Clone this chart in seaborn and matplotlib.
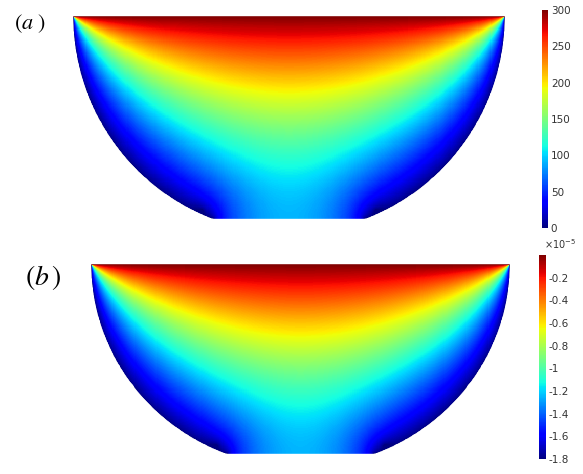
import numpy as np
import matplotlib
matplotlib.use("Agg")
import matplotlib.pyplot as plt
from matplotlib.path import Path
from matplotlib.patches import PathPatch
import seaborn as sns

# ---- values shown on the two colour scales ----
top_value_a = 300.0          # value held on the flat top edge, panel (a)
arc_value_a = 0.0            # value held on the curved wall, panel (a)
ticks_a = [0, 50, 100, 150, 200, 250, 300]

top_value_b = 0.0            # panel (b), in units of 1e-5
arc_value_b = -1.8
ticks_b = [-1.8, -1.6, -1.4, -1.2, -1, -0.8, -0.6, -0.4, -0.2]
scale_b = 1e-5

panel_labels = [r"$(a\;)$", r"$(b\,)$"]

# ---- geometry: unit half-disc cut flat at DEPTH, corners rounded ----
DEPTH = 0.935
FILLET = 0.05
H = 1.0 / 200
# exponent of the Kirchhoff back-transform (conductivity rising with the value)
KIRCHHOFF_EXP = 0.87

nx = int(round(2 / H)) + 1
ny = int(round(DEPTH / H)) + 1
xs = -1 + np.arange(nx) * H
ys = -np.arange(ny) * H
X, Y = np.meshgrid(xs, ys)

fx = np.sqrt((1 - FILLET) ** 2 - (DEPTH - FILLET) ** 2)
fy = -DEPTH + FILLET
inside = (X ** 2 + Y ** 2 < 1) & (Y < 0)
corner = (np.abs(X) > fx) & (Y < fy) & ((np.abs(X) - fx) ** 2 + (Y - fy) ** 2 > FILLET ** 2)
inside &= ~corner

# Laplace problem: 1 on the top edge, 0 on the curved wall, insulated flat bottom.
# Start from the exact half-disc solution and relax with red-black SOR.
z = X + 1j * Y
with np.errstate(divide="ignore", invalid="ignore"):
    w = (1 + z) / (1 - z)
    guess = 1 + np.angle(w) / (np.pi / 2)
guess = np.nan_to_num(np.clip(guess, 0, 1))

U = np.zeros((ny + 1, nx))
U[:ny] = np.where(inside, guess, 0.0)
U[0] = 1.0
upd = np.zeros_like(U, dtype=bool)
upd[:ny] = inside
upd[0] = False
par = (np.add.outer(np.arange(ny + 1), np.arange(nx)) % 2) == 0
masks = [upd & par, upd & ~par]
omega = 1.95
avg = np.zeros_like(U)
for _ in range(1600):
    for m in masks:
        U[ny] = U[ny - 2]
        avg[1:-1, 1:-1] = 0.25 * (U[:-2, 1:-1] + U[2:, 1:-1] + U[1:-1, :-2] + U[1:-1, 2:])
        U[m] += omega * (avg[m] - U[m])
field = np.clip(U[:ny], 0, 1) ** KIRCHHOFF_EXP


# ---- outline of the domain, in heatmap cell coordinates ----
def outline_verts():
    pts = []
    a1 = np.arctan2(fy, -fx) % (2 * np.pi)
    a2 = 3 * np.pi - a1
    for a in np.linspace(np.pi, a1, 160):
        pts.append((np.cos(a), np.sin(a)))
    for b in np.linspace(a1, 1.5 * np.pi, 24):
        pts.append((-fx + FILLET * np.cos(b), fy + FILLET * np.sin(b)))
    for b in np.linspace(1.5 * np.pi, a2, 24):
        pts.append((fx + FILLET * np.cos(b), fy + FILLET * np.sin(b)))
    for a in np.linspace(a2, 2 * np.pi, 160):
        pts.append((np.cos(a), np.sin(a)))
    pts = np.array(pts)
    u = (pts[:, 0] + 1) / H + 0.5
    v = -pts[:, 1] / H + 0.5
    return np.column_stack([u, v])


def signed_area(v):
    return 0.5 * np.sum(v[:, 0] * np.roll(v[:, 1], -1) - np.roll(v[:, 0], -1) * v[:, 1])


def closed_path(v):
    v = np.vstack([v, v[:1]])
    codes = [Path.MOVETO] + [Path.LINETO] * (len(v) - 2) + [Path.CLOSEPOLY]
    return Path(v, codes)


shape_v = outline_verts()
shape = closed_path(shape_v)
box_v = np.array([[-3, -3], [nx + 3, -3], [nx + 3, ny + 3], [-3, ny + 3]], float)
if np.sign(signed_area(box_v)) == np.sign(signed_area(shape_v)):
    box_v = box_v[::-1]
# white frame with a hole shaped like the domain, for a smooth antialiased rim
frame = Path.make_compound_path(closed_path(box_v), shape)

sns.set_theme(style="white")
plt.rcParams["mathtext.fontset"] = "stix"
fig = plt.figure(figsize=(5.83, 4.74), dpi=100)
W, Hf = 583.0, 474.0


def frac(x0, y0, x1, y1):
    return [x0 / W, 1 - y1 / Hf, (x1 - x0) / W, (y1 - y0) / Hf]


panels = [
    dict(box=(73, 16, 505, 219), cbar=(542, 10, 548, 228),
         lo=arc_value_a, hi=top_value_a, ticks=ticks_a, scale=1.0,
         label_xy=(30, 24), label_size=16),
    dict(box=(91, 264, 510, 454), cbar=(539, 255, 546, 459),
         lo=arc_value_b, hi=top_value_b, ticks=ticks_b, scale=scale_b,
         label_xy=(43, 277), label_size=20),
]

for p, lab in zip(panels, panel_labels):
    ax = fig.add_axes(frac(*p["box"]))
    cax = fig.add_axes(frac(*p["cbar"]))
    lo, hi = p["lo"] * p["scale"], p["hi"] * p["scale"]
    data = np.where(inside, lo + (hi - lo) * field, lo)
    data[0] = hi
    sns.heatmap(data, ax=ax, cmap="jet", vmin=lo, vmax=hi, cbar=True,
                cbar_ax=cax, xticklabels=False, yticklabels=False)
    mesh = ax.collections[0]
    mesh.set_clip_path(shape, ax.transData)
    ax.add_patch(PathPatch(frame, facecolor="white", edgecolor="white",
                           linewidth=0.3, antialiased=True, zorder=5,
                           clip_on=True))
    ax.set_xlim(0.5, nx - 0.5)
    ax.set_ylim(ny - 0.5, 0.5)
    ax.set_axis_off()

    cax.set_yticks([t * p["scale"] for t in p["ticks"]])
    cax.set_yticklabels([f"{t:g}" for t in p["ticks"]])
    cax.tick_params(axis="y", length=0, labelsize=7.5, colors="#333333", pad=2)
    for s in cax.spines.values():
        s.set_visible(False)
    cax.collections[0].set_edgecolor("face")

    fig.text(p["label_xy"][0] / W, 1 - p["label_xy"][1] / Hf, lab,
             fontsize=p["label_size"], ha="center", va="center", color="black")

fig.text(560 / W, 1 - 244 / Hf, r"$\times10^{-5}$", fontsize=7,
         ha="center", va="center", color="#333333",
         math_fontfamily="dejavusans")

fig.savefig("out.png", dpi=100)
